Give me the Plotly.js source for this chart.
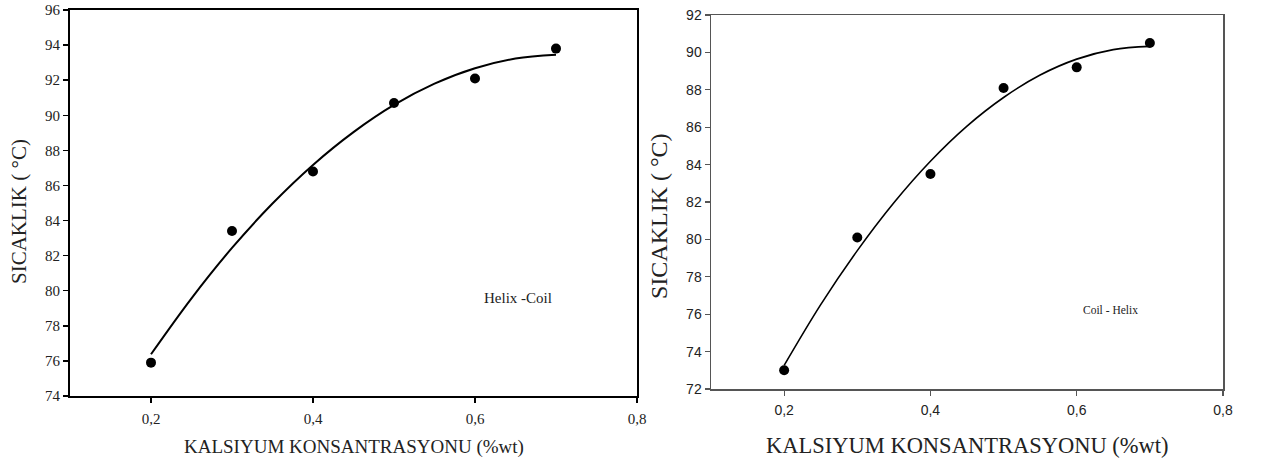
<!DOCTYPE html>
<html>
<head>
<meta charset="utf-8">
<script src="https://cdn.plot.ly/plotly-3.0.1.min.js"></script>
<style>html,body{margin:0;padding:0;background:#fff;}#chart{width:1266px;height:463px;}</style>
</head>
<body>
<div id="chart"></div>
<script>
// Measured data points
const concentration = [0.2, 0.3, 0.4, 0.5, 0.6, 0.7];
const tempHelixCoil = [75.9, 83.4, 86.8, 90.7, 92.1, 93.8];
const tempCoilHelix = [73.0, 80.1, 83.5, 88.1, 89.2, 90.5];

// Fitted curves
const fitX = [0.2, 0.25, 0.3, 0.35, 0.4, 0.45, 0.5, 0.55, 0.6, 0.65, 0.7];
const fitHelixCoil = [76.38, 79.57, 82.44, 84.97, 87.17, 89.04, 90.59, 91.80, 92.68, 93.23, 93.45];
const fitCoilHelix = [73.26, 76.51, 79.40, 81.96, 84.18, 86.06, 87.59, 88.79, 89.64, 90.15, 90.32];

const xTickVals = [0.2, 0.4, 0.6, 0.8];
const xTickText = ['0,2', '0,4', '0,6', '0,8'];
const yTicksLeft = [74, 76, 78, 80, 82, 84, 86, 88, 90, 92, 94, 96];
const yTicksRight = [72, 74, 76, 78, 80, 82, 84, 86, 88, 90, 92];

const xTitle = 'KALSIYUM KONSANTRASYONU (%wt)';
const yTitle = 'SICAKLIK ( °C)';
const labelLeft = 'Helix -Coil';
const labelRight = 'Coil - Helix';

const W = 1266, H = 463;
const px = v => v / W, py = v => 1 - v / H;

const traces = [
  {x: fitX, y: fitHelixCoil, xaxis: 'x', yaxis: 'y', mode: 'lines', line: {color: '#000', width: 2, shape: 'spline'}, hoverinfo: 'skip'},
  {x: concentration, y: tempHelixCoil, xaxis: 'x', yaxis: 'y', mode: 'markers', marker: {color: '#000', size: 10}},
  {x: fitX, y: fitCoilHelix, xaxis: 'x2', yaxis: 'y2', mode: 'lines', line: {color: '#000', width: 1.6, shape: 'spline'}, hoverinfo: 'skip'},
  {x: concentration, y: tempCoilHelix, xaxis: 'x2', yaxis: 'y2', mode: 'markers', marker: {color: '#000', size: 10}}
];

const serif = '"Liberation Serif", serif';
const sans = '"Liberation Sans", sans-serif';

const layout = {
  width: W, height: H,
  margin: {l: 0, r: 0, t: 0, b: 0},
  paper_bgcolor: '#fff', plot_bgcolor: '#fff',
  showlegend: false,
  xaxis: {
    domain: [px(70), px(637)], range: [0.1, 0.8], anchor: 'y',
    tickvals: xTickVals, ticktext: xTickText,
    showgrid: false, zeroline: false,
    showline: true, mirror: true, linecolor: '#000', linewidth: 2,
    ticks: 'outside', ticklen: 5, tickwidth: 1.5, tickcolor: '#000',
    ticklabelstandoff: 3,
    tickfont: {family: serif, size: 15, color: '#222'}
  },
  yaxis: {
    domain: [1 - 396 / H, 1 - 10 / H], range: [74, 96], anchor: 'x',
    tickvals: yTicksLeft,
    showgrid: false, zeroline: false,
    showline: true, mirror: true, linecolor: '#000', linewidth: 2,
    ticks: 'outside', ticklen: 5, tickwidth: 1.5, tickcolor: '#000',
    tickfont: {family: serif, size: 15, color: '#222'}
  },
  xaxis2: {
    domain: [px(711), px(1223)], range: [0.1, 0.8], anchor: 'y2',
    tickvals: xTickVals, ticktext: xTickText,
    showgrid: false, zeroline: false,
    showline: true, mirror: true, linecolor: '#555', linewidth: 1.5,
    ticks: 'outside', ticklen: 5, tickwidth: 1.2, tickcolor: '#555',
    ticklabelstandoff: 3,
    tickfont: {family: sans, size: 14, color: '#222'}
  },
  yaxis2: {
    domain: [1 - 389 / H, 1 - 15 / H], range: [72, 92], anchor: 'x2',
    tickvals: yTicksRight,
    showgrid: false, zeroline: false,
    showline: true, mirror: true, linecolor: '#555', linewidth: 1.5,
    ticks: 'outside', ticklen: 5, tickwidth: 1.2, tickcolor: '#555',
    tickfont: {family: sans, size: 14, color: '#222'}
  },
  annotations: [
    {xref: 'paper', yref: 'paper', x: px(354), y: py(447), text: xTitle, showarrow: false, xanchor: 'center', yanchor: 'middle', font: {family: serif, size: 19, color: '#222'}},
    {xref: 'paper', yref: 'paper', x: px(19), y: py(212), text: yTitle, showarrow: false, textangle: -90, xanchor: 'center', yanchor: 'middle', font: {family: serif, size: 21, color: '#222'}},
    {xref: 'paper', yref: 'paper', x: px(967), y: py(445), text: xTitle, showarrow: false, xanchor: 'center', yanchor: 'middle', font: {family: serif, size: 22.5, color: '#222'}},
    {xref: 'paper', yref: 'paper', x: px(659), y: py(216), text: yTitle, showarrow: false, textangle: -90, xanchor: 'center', yanchor: 'middle', font: {family: serif, size: 24, color: '#222'}},
    {xref: 'paper', yref: 'paper', x: px(518), y: py(298), text: labelLeft, showarrow: false, xanchor: 'center', yanchor: 'middle', font: {family: serif, size: 15, color: '#222'}},
    {xref: 'paper', yref: 'paper', x: px(1110), y: py(310), text: labelRight, showarrow: false, xanchor: 'center', yanchor: 'middle', font: {family: serif, size: 11.5, color: '#222'}}
  ]
};

Plotly.newPlot('chart', traces, layout, {displayModeBar: false, staticPlot: true});
</script>
</body>
</html>
